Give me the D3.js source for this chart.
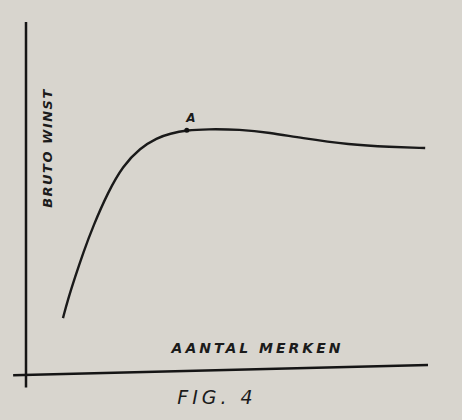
<!DOCTYPE html>
<html lang="nl">
<meta charset="UTF-8">
<title>Fig. 4</title>
<script src="https://d3js.org/d3.v7.min.js"></script>
<style>
  body { margin: 0; background: #d8d5ce; }
  svg { display: block; }
  .lbl { font-family: "DejaVu Sans", sans-serif; font-style: italic; font-weight: bold; fill: #1b1b1b; }
</style>
<body>
<svg id="chart" width="462" height="420"></svg>
<script>
// aantal merken (0-100) vs bruto winst (0-100)
var merken = [9.2, 10.4, 12.2, 14.2, 16.7, 20.4, 24.1, 28.4, 32.6, 35.8, 40.0, 45.0, 53.2, 60.7, 68.2, 80.6, 90.5, 99.3];
var winst  = [15.4, 20.6, 27.1, 34.0, 41.7, 51.4, 58.9, 64.0, 66.9, 68.1, 69.1, 69.4, 69.3, 68.4, 66.9, 64.9, 64.3, 64.0];
var puntA = {x: 40.0, y: 69.1, label: "A"};
var xTitel = "AANTAL MERKEN";
var yTitel = "BRUTO WINST";
var figTitel = "FIG. 4";

var svg = d3.select("#chart");
var x = d3.scaleLinear().domain([0, 100]).range([26, 428]);
var y = d3.scaleLinear().domain([0, 100]).range([372, 22]);

// axes (the drawn x-axis runs slightly uphill)
svg.append("line")
    .attr("x1", x(0)).attr("x2", x(0))
    .attr("y1", y(100)).attr("y2", y(-4.4))
    .attr("stroke", "#151515").attr("stroke-width", 2.5);
svg.append("line")
    .attr("x1", x(-3.2)).attr("x2", x(100))
    .attr("y1", y(-0.9)).attr("y2", y(2))
    .attr("stroke", "#151515").attr("stroke-width", 2.5);

var pts = merken.map((m, i) => [m, winst[i]]);
var line = d3.line()
    .x(d => x(d[0]))
    .y(d => y(d[1]))
    .curve(d3.curveBasis);

svg.append("path")
    .attr("d", line(pts))
    .attr("fill", "none")
    .attr("stroke", "#1a1a1a")
    .attr("stroke-width", 2.4);

svg.append("circle")
    .attr("cx", x(puntA.x)).attr("cy", y(puntA.y))
    .attr("r", 2.5).attr("fill", "#111");
svg.append("text")
    .attr("class", "lbl")
    .attr("x", x(puntA.x) + 4).attr("y", y(puntA.y) - 8)
    .attr("text-anchor", "middle")
    .style("font-size", "12px")
    .text(puntA.label);

svg.append("text")
    .attr("class", "lbl")
    .attr("transform", "translate(" + (x(0) + 26) + "," + y(64) + ") rotate(-90)")
    .attr("text-anchor", "middle")
    .style("font-size", "13px")
    .style("letter-spacing", "1.5px")
    .text(yTitel);

svg.append("text")
    .attr("class", "lbl")
    .attr("x", x(57.6)).attr("y", y(5.3))
    .attr("text-anchor", "middle")
    .style("font-size", "14px")
    .style("letter-spacing", "3px")
    .text(xTitel);

svg.append("text")
    .attr("class", "lbl")
    .attr("x", x(47.5)).attr("y", y(-9.2))
    .attr("text-anchor", "middle")
    .style("font-size", "19px")
    .style("font-weight", "normal")
    .style("letter-spacing", "4px")
    .text(figTitel);
</script>
</body>
</html>
